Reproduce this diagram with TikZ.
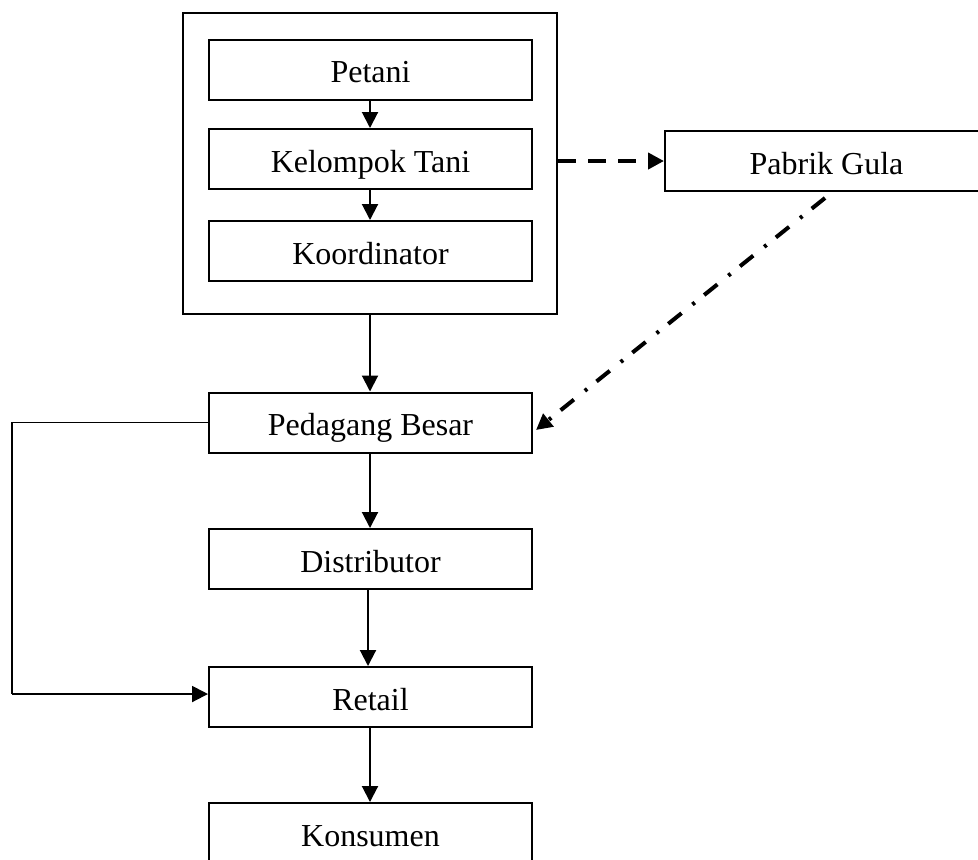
\documentclass[tikz,border=0pt]{standalone}
\usepackage{fontspec}
\setmainfont{Liberation Serif}
\usetikzlibrary{arrows.meta,calc}
\tikzset{
  box/.style={draw, line width=1pt, rectangle, inner sep=0pt,
    minimum width=161.5pt, minimum height=30pt,
    text height=15pt, text depth=1.9pt,
    font=\fontsize{16}{19}\selectfont},
  conn/.style={line width=1pt, -{Triangle[length=8pt,width=8pt]}},
  dashconn/.style={line width=2pt, dash pattern=on 9pt off 6pt,
    -{Triangle[length=8pt,width=8pt]}},
  dotdashconn/.style={line width=2pt, dash pattern=on 8.5pt off 6pt on 1.5pt off 7pt,
    -{Triangle[length=8pt,width=8pt]}},
  thinline/.style={line width=0.7pt}
}
\begin{document}
\begin{tikzpicture}[x=0.5pt,y=-0.5pt]
\useasboundingbox (0,0) rectangle (978,859);
\node[draw, line width=1pt, inner sep=0pt, minimum width=187pt, minimum height=150.5pt] (outer) at (370,163.5) {};
\node[box] (petani) at (370.5,69.5) {Petani};
\node[box] (kelompok) at (370.5,159) {Kelompok Tani};
\node[box] (koord) at (370.5,251) {Koordinator};
\node[box] (pabrik) at (826.5,161) {Pabrik Gula};
\node[box] (pedagang) at (370.5,422.5) {Pedagang Besar};
\node[box] (distributor) at (370.5,559) {Distributor};
\node[box] (retail) at (370.5,697) {Retail};
\node[box] (konsumen) at (370.5,833) {Konsumen};
\coordinate (lc) at (12,694);
\draw[conn] (petani.south -| 370,0) -- (kelompok.north -| 370,0);
\draw[conn] (kelompok.south -| 370,0) -- (koord.north -| 370,0);
\draw[conn] (outer.south) -- (pedagang.north -| outer.south);
\draw[dashconn] (outer.east |- pabrik.west) -- (pabrik.west);
\draw[dotdashconn] ($(pabrik.south)+(-1.5,6)$) -- ($(pedagang.east)+(3,7.5)$);
\draw[conn] (pedagang.south -| 370,0) -- (distributor.north -| 370,0);
\draw[conn] (distributor.south -| 368,0) -- (retail.north -| 368,0);
\draw[conn] (retail.south -| 370,0) -- (konsumen.north -| 370,0);
\draw[thinline] (pedagang.west) -| (lc);
\draw[conn] (lc) -- (lc -| retail.west);
\end{tikzpicture}
\end{document}
